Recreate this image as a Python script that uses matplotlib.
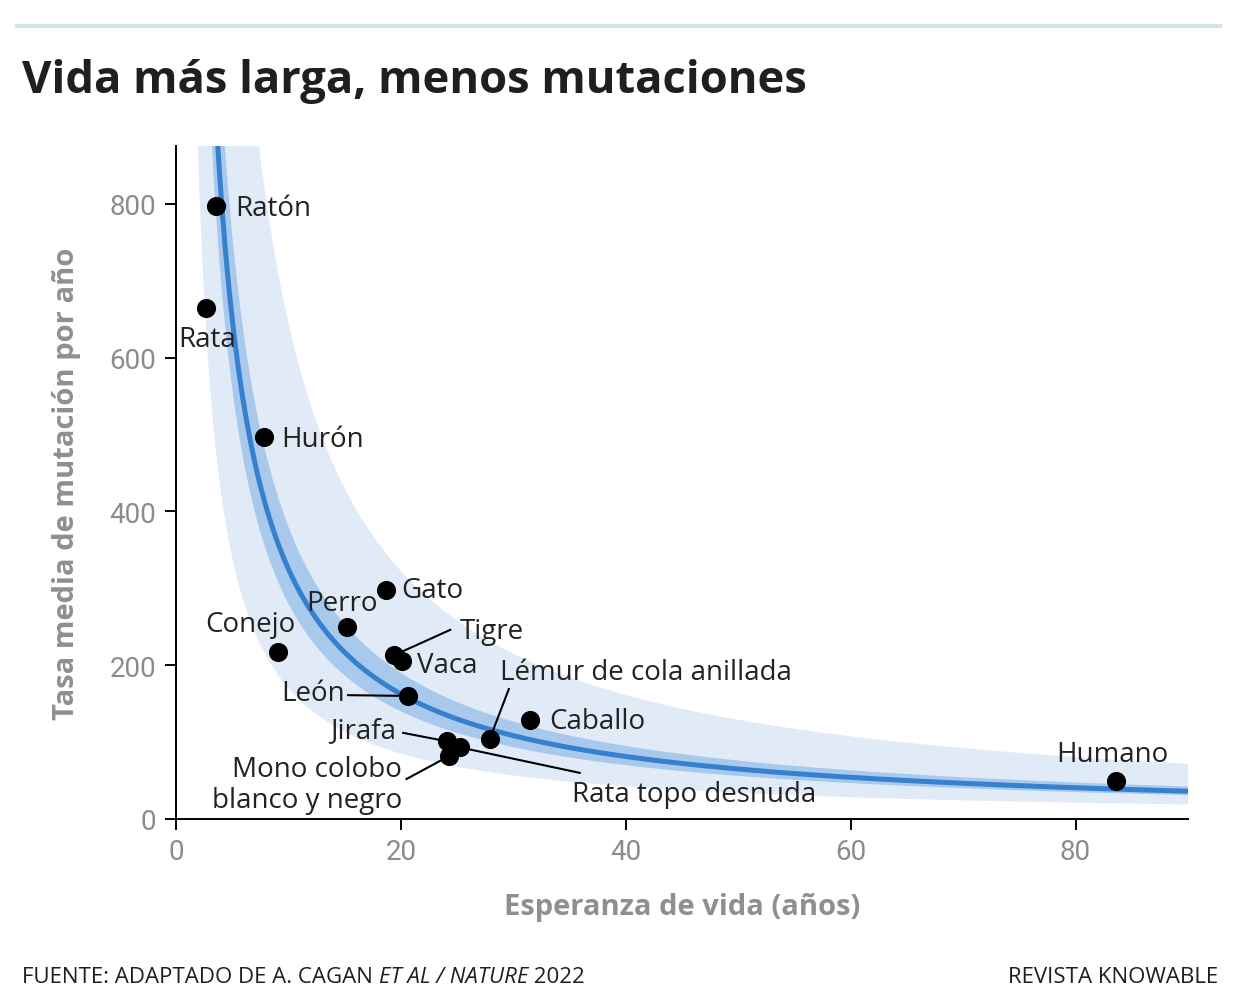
import numpy as np
import matplotlib
matplotlib.use("Agg")
import matplotlib.pyplot as plt

plt.rcParams["font.family"] = ["Open Sans", "DejaVu Sans"]

# valores
species = ["Ratón", "Rata", "Hurón", "Conejo", "Perro", "Gato", "Tigre", "Vaca",
           "León", "Jirafa", "Rata topo desnuda", "Mono colobo\nblanco y negro",
           "Lémur de cola anillada", "Caballo", "Humano"]
lifespan = [3.6, 2.7, 7.8, 9.1, 15.2, 18.7, 19.4, 20.1, 20.6, 24.1, 25.3, 24.3,
            27.9, 31.5, 83.6]
mutation_rate = [797, 665, 497, 217, 250, 298, 213, 205, 160, 101, 93, 82,
                 104, 129, 49]

# ajuste tasa = k / esperanza de vida, con sus bandas
fit_k = 3250
inner_band_k = (2800, 3800)
outer_band_k = (1700, 6450)

x_ticks = [0, 20, 40, 60, 80]
y_ticks = [0, 200, 400, 600, 800]

# posición del texto (datos), alineación y arranque de la línea guía
label_layout = {
    "Ratón": (5.3, 794, "left", None),
    "Rata": (2.8, 624, "center", None),
    "Hurón": (9.4, 494, "left", None),
    "Conejo": (6.6, 253, "center", None),
    "Perro": (14.8, 281, "center", None),
    "Gato": (20.0, 298, "left", None),
    "Tigre": (25.2, 244, "left", (24.4, 246)),
    "Vaca": (21.4, 200, "left", None),
    "León": (15.0, 164, "right", (15.3, 161)),
    "Jirafa": (19.6, 115, "right", (20.2, 112)),
    "Rata topo desnuda": (35.2, 32, "left", (35.9, 60)),
    "Mono colobo\nblanco y negro": (20.1, 45, "right", (20.5, 52)),
    "Lémur de cola anillada": (28.8, 191, "left", (29.6, 169)),
    "Caballo": (33.2, 128, "left", None),
    "Humano": (83.3, 84, "center", None),
}

W, H = 1240, 1004
fig = plt.figure(figsize=(W / 100, H / 100), dpi=100)
ax = fig.add_axes([176 / W, 1 - 820 / H, (1188 - 176) / W, (820 - 147) / H])

xs = np.linspace(0.3, 90, 800)
ax.fill_between(xs, outer_band_k[0] / xs, outer_band_k[1] / xs, color="#e1eaf7", lw=0, zorder=1)
ax.fill_between(xs, inner_band_k[0] / xs, inner_band_k[1] / xs, color="#a9c9ec", lw=0, zorder=2)
ax.plot(xs, fit_k / xs, color="#3580cf", lw=3.6, zorder=3, solid_capstyle="butt")

ax.scatter(lifespan, mutation_rate, s=190, color="black", zorder=6, linewidths=0)

for name, x, y in zip(species, lifespan, mutation_rate):
    tx, ty, ha, lead = label_layout[name]
    ax.text(tx, ty, name, ha=ha, va="center", fontsize=20, color="#222222",
            linespacing=1.13, zorder=7)
    if lead is not None:
        ax.plot([lead[0], x], [lead[1], y], color="black", lw=1.5, zorder=5)

ax.set_xlim(0, 90)
ax.set_ylim(0, 875)
ax.set_xticks(x_ticks)
ax.set_yticks(y_ticks)
for s in ["top", "right"]:
    ax.spines[s].set_visible(False)
for s in ["left", "bottom"]:
    ax.spines[s].set_linewidth(1.4)
    ax.spines[s].set_color("black")
ax.tick_params(axis="both", direction="out", length=8, width=1.4, colors="black",
               labelcolor="#8c8c8c", labelsize=20, pad=6)
for lab in ax.get_xticklabels() + ax.get_yticklabels():
    lab.set_family(["Roboto", "DejaVu Sans"])

ax.set_xlabel("Esperanza de vida (años)", fontsize=21, fontweight="bold",
              color="#8f8f8f", labelpad=19)
ax.set_ylabel("Tasa media de mutación por año", fontsize=21, fontweight="bold",
              color="#8f8f8f", labelpad=21)

# cabecera
fig.add_artist(plt.Line2D([17 / W, 1220 / W], [1 - 27 / H, 1 - 27 / H],
                          color="#d2e6e8", lw=3))
fig.text(22 / W, 1 - 93 / H, "Vida más larga, menos mutaciones", fontsize=32.7,
         fontweight="bold", color="#1f1f1f", va="baseline")

# pie con parte en cursiva
fig.canvas.draw()
renderer = fig.canvas.get_renderer()
foot_y = 1 - 983 / H
x_px = 22
for piece, style in [("FUENTE: ADAPTADO DE A. CAGAN ", "normal"),
                     ("ET AL / NATURE", "italic"), (" 2022", "normal")]:
    t = fig.text(x_px / W, foot_y, piece, fontsize=16, style=style,
                 color="#1f1f1f", va="baseline")
    x_px += t.get_window_extent(renderer).width
fig.text(1218 / W, foot_y, "REVISTA KNOWABLE", fontsize=16, color="#1f1f1f",
         ha="right", va="baseline")

fig.savefig("out.png", dpi=100)
